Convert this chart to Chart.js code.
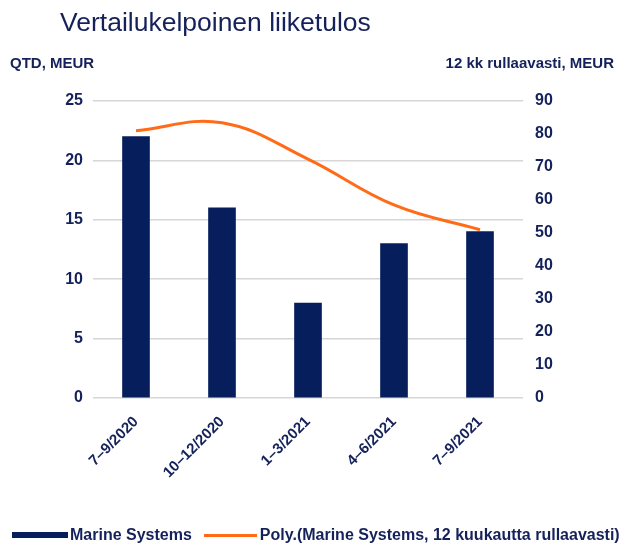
<!DOCTYPE html>
<html>
<head>
<meta charset="utf-8">
<script src="https://cdn.jsdelivr.net/npm/chart.js@4"></script>
<style>
  body { margin: 0; background: #fff; font-family: "Liberation Sans", Arial, sans-serif; color: #14215a; }
  #wrap { position: relative; width: 621px; height: 544px; }
  canvas { position: absolute; left: 0; top: 0; }
  .txt { position: absolute; white-space: nowrap; }
  #title { left: 60px; top: 7px; font-size: 26.5px; }
  #qtd { left: 10px; top: 54px; font-size: 15px; font-weight: bold; }
  #rolling { right: 7px; top: 54px; font-size: 15px; font-weight: bold; }
  #legend { left: 12px; top: 526px; font-size: 16px; font-weight: bold; display: flex; align-items: center; }
  .swatch { display: inline-block; }
</style>
</head>
<body>
<div id="wrap">
  <canvas id="chart" width="621" height="544"></canvas>
  <div class="txt" id="title">Vertailukelpoinen liiketulos</div>
  <div class="txt" id="qtd">QTD, MEUR</div>
  <div class="txt" id="rolling">12 kk rullaavasti, MEUR</div>
  <div class="txt" id="legend">
    <span class="swatch" style="width:56px;height:6px;background:#061f5c;margin-right:2px"></span>
    <span>Marine Systems</span>
    <span class="swatch" style="width:53px;height:3px;background:#ff6b17;margin-left:12px;margin-right:3px"></span>
    <span>Poly.(Marine Systems, 12 kuukautta rullaavasti)</span>
  </div>
</div>
<script>
// data
const quarters = ['7–9/2020', '10–12/2020', '1–3/2021', '4–6/2021', '7–9/2021'];
const qtdValues = [22, 16, 8, 13, 14];
const rollingTrend = [81, 83.4, 72.4, 58.5, 51];

const navy = '#061f5c';
const textCol = '#14215a';
const orange = '#ff6b17';

const ctx = document.getElementById('chart');
const myChart = new Chart(ctx, {
    type: 'bar',
    data: {
        labels: quarters,
        datasets: [{
            type: 'line',
            label: 'Poly.(Marine Systems, 12 kuukautta rullaavasti)',
            data: rollingTrend,
            yAxisID: 'y2',
            borderColor: orange,
            borderWidth: 3,
            pointRadius: 0,
            tension: 0.4,
            order: 0
        }, {
            label: 'Marine Systems',
            data: qtdValues,
            yAxisID: 'y',
            backgroundColor: navy,
            barThickness: 27,
            order: 1
        }]
    },
    options: {
        responsive: false,
        animation: false,
        layout: { padding: { top: 101, left: 0, right: 0, bottom: 0 } },
        plugins: {
            legend: { display: false },
            tooltip: { enabled: false }
        },
        scales: {
            x: {
                grid: { display: false },
                border: { display: false },
                ticks: {
                    color: textCol,
                    font: { family: 'Liberation Sans', size: 15, weight: 'bold' },
                    minRotation: 45,
                    maxRotation: 45,
                    padding: 7
                },
                afterFit: (scale) => { scale.height = 146; }
            },
            y: {
                position: 'left',
                min: 0,
                max: 25,
                ticks: {
                    stepSize: 5,
                    color: textCol,
                    font: { family: 'Liberation Sans', size: 16, weight: 'bold' },
                    padding: 10
                },
                grid: { color: '#d6d6d6', lineWidth: 1.5, drawTicks: false },
                border: { display: false },
                afterFit: (scale) => { scale.width = 93; }
            },
            y2: {
                position: 'right',
                min: 0,
                max: 90,
                ticks: {
                    stepSize: 10,
                    color: textCol,
                    font: { family: 'Liberation Sans', size: 16, weight: 'bold' },
                    padding: 12
                },
                grid: { drawOnChartArea: false, drawTicks: false },
                border: { display: false },
                afterFit: (scale) => { scale.width = 98; }
            }
        }
    }
});
</script>
</body>
</html>
